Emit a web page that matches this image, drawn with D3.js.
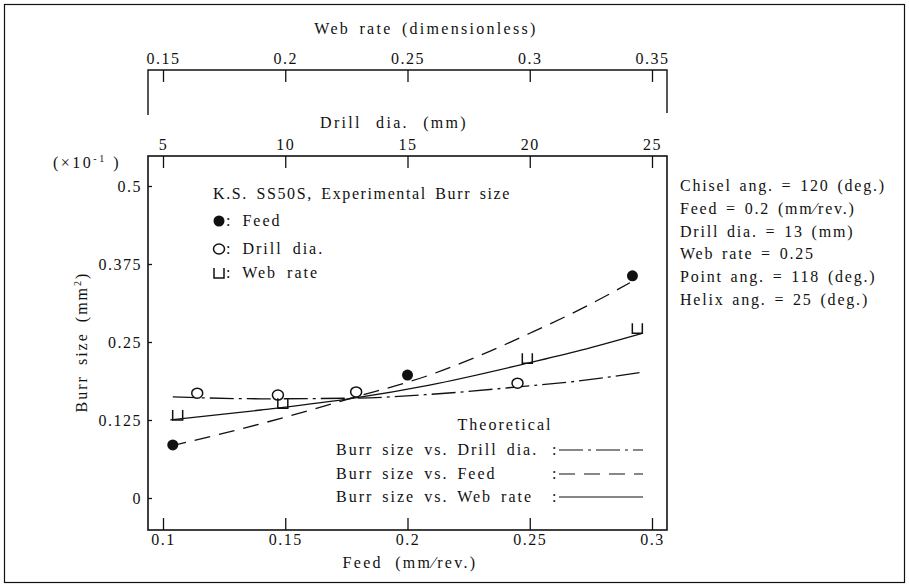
<!DOCTYPE html>
<html>
<head>
<meta charset="utf-8">
<script src="https://cdn.jsdelivr.net/npm/d3@7/dist/d3.min.js"></script>
<style>
  body { margin: 0; background: #fff; }
  svg text { font-family: "Liberation Serif", "DejaVu Serif", serif; fill: #111; }
</style>
</head>
<body>
<div id="chart"></div>
<script>
// ── Ticks ─────────────────────────────────────────────────────────────────────
const FEED_TICKS  = [0.1, 0.15, 0.2, 0.25, 0.3];
const DRILL_TICKS = [5, 10, 15, 20, 25];
const WEB_TICKS   = [0.15, 0.2, 0.25, 0.3, 0.35];
const BURR_TICKS  = [0, 0.125, 0.25, 0.375, 0.5];

// ── Experimental points ───────────────────────────────────────────────────────
const feedExpX  = [0.104, 0.2, 0.292];
const feedExpY  = [0.085, 0.197, 0.356];
const drillExpX = [6.4, 9.7, 12.9, 19.5];
const drillExpY = [0.168, 0.165, 0.170, 0.184];
const webExpX   = [0.156, 0.199, 0.299, 0.344];
const webExpY   = [0.133, 0.152, 0.224, 0.272];

// ── Theoretical curves ────────────────────────────────────────────────────────
const feedTheoX  = [0.103, 0.14, 0.178, 0.209, 0.23, 0.25, 0.271, 0.291];
const feedTheoY  = [0.083, 0.119, 0.161, 0.197, 0.229, 0.264, 0.303, 0.345];
const drillTheoX = [5.4, 9, 12.8, 15.9, 19.5, 22.1, 24.5];
const drillTheoY = [0.162, 0.159, 0.160, 0.166, 0.178, 0.188, 0.201];
const webTheoX   = [0.153, 0.19, 0.228, 0.259, 0.299, 0.321, 0.346];
const webTheoY   = [0.125, 0.141, 0.160, 0.181, 0.216, 0.237, 0.264];

const CONDITIONS = [
  "Chisel ang. = 120 (deg.)",
  "Feed = 0.2 (mm\u2044rev.)",
  "Drill dia. = 13 (mm)",
  "Web rate = 0.25",
  "Point ang. = 118 (deg.)",
  "Helix ang. = 25 (deg.)"
];

// ── Layout ────────────────────────────────────────────────────────────────────
const W = 909, H = 588;
const frame = { left: 148, right: 667, top: 156, bottom: 530 };
const webLineY = 70;
const INK = "#111";
const DASH = { feed: "16,9", drill: "24,5,3,5", web: null };

const svg = d3.select("#chart").append("svg")
  .attr("width", W).attr("height", H);

svg.append("rect")   // figure border
  .attr("x", 4.5).attr("y", 4.5).attr("width", 900).attr("height", 578)
  .attr("fill", "none").attr("stroke", INK).attr("stroke-width", 1.2);

// ── Scales ────────────────────────────────────────────────────────────────────
const xFeed  = d3.scaleLinear().domain([0.1, 0.3]).range([163, 652]);
const xDrill = d3.scaleLinear().domain([5, 25]).range([163, 652]);
const xWeb   = d3.scaleLinear().domain([0.15, 0.35]).range([163, 652]);
const yScale = d3.scaleLinear().domain([0, 0.5]).range([498, 186]);

const fmt = d => String(d);

function styleAxis(g) {
  g.select(".domain").remove();
  g.selectAll(".tick line").attr("stroke", INK).attr("stroke-width", 1.3);
  g.selectAll(".tick text")
    .style("font-size", "16px")
    .style("letter-spacing", "1.5px")
    .attr("fill", INK);
}

// ── Frame ─────────────────────────────────────────────────────────────────────
svg.append("rect")
  .attr("x", frame.left).attr("y", frame.top)
  .attr("width", frame.right - frame.left).attr("height", frame.bottom - frame.top)
  .attr("fill", "none").attr("stroke", INK).attr("stroke-width", 1.6);

// web rate bracket
svg.append("path")
  .attr("d", `M${frame.left},${webLineY + 45}V${webLineY}H${frame.right}V${webLineY + 43}`)
  .attr("fill", "none").attr("stroke", INK).attr("stroke-width", 1.4);

// ── Axes ──────────────────────────────────────────────────────────────────────
svg.append("g").attr("transform", `translate(0,${webLineY})`)
  .call(d3.axisTop(xWeb).tickValues(WEB_TICKS).tickFormat(fmt).tickSize(-12).tickPadding(6))
  .call(styleAxis);

svg.append("g").attr("transform", `translate(0,${frame.top})`)
  .call(d3.axisTop(xDrill).tickValues(DRILL_TICKS).tickFormat(fmt).tickSize(-12).tickPadding(6))
  .call(styleAxis);

svg.append("g").attr("transform", `translate(0,${frame.bottom})`)
  .call(d3.axisBottom(xFeed).tickValues(FEED_TICKS).tickFormat(fmt).tickSize(-12).tickPadding(4))
  .call(styleAxis);

svg.append("g").attr("transform", `translate(${frame.left},0)`)
  .call(d3.axisLeft(yScale).tickValues(BURR_TICKS).tickFormat(fmt).tickSize(-4).tickPadding(6))
  .call(styleAxis);

// ── Text helper ───────────────────────────────────────────────────────────────
const txt = (x, y, s, anchor = "start", ls = 2, ws = 3) => svg.append("text")
  .attr("x", x).attr("y", y).attr("text-anchor", anchor)
  .style("font-size", "16px")
  .style("letter-spacing", ls + "px")
  .style("word-spacing", ws + "px")
  .text(s);

// ── Axis titles ───────────────────────────────────────────────────────────────
txt(426, 34, "Web rate (dimensionless)", "middle", 2.3, 3);
txt(394, 128, "Drill dia. (mm)", "middle", 2.3, 8);
txt(410, 568, "Feed  (mm\u2044rev.)", "middle", 2.3, 6);

svg.append("text")
  .attr("transform", "translate(87,342) rotate(-90)")
  .attr("text-anchor", "middle")
  .style("font-size", "16px").style("letter-spacing", "2px").style("word-spacing", "4px")
  .call(t => {
    t.append("tspan").text("Burr size (mm");
    t.append("tspan").attr("dy", -6).style("font-size", "10px").text("2");
    t.append("tspan").attr("dy", 6).text(")");
  });

svg.append("text").attr("x", 53).attr("y", 168)
  .style("font-size", "16px").style("letter-spacing", "2.5px")
  .call(t => {
    t.append("tspan").text("(\u00d710");
    t.append("tspan").attr("dy", -6).style("font-size", "10px").text("-1");
    t.append("tspan").attr("dy", 6).text(" )");
  });

// ── Theoretical curves ────────────────────────────────────────────────────────
const curves = [
  { x: feedTheoX,  y: feedTheoY,  sx: xFeed,  dash: DASH.feed },
  { x: drillTheoX, y: drillTheoY, sx: xDrill, dash: DASH.drill },
  { x: webTheoX,   y: webTheoY,   sx: xWeb,   dash: DASH.web }
];
curves.forEach(c => {
  const line = d3.line()
    .x(i => c.sx(c.x[i])).y(i => yScale(c.y[i]))
    .curve(d3.curveMonotoneX);
  svg.append("path")
    .attr("d", line(d3.range(c.x.length)))
    .attr("fill", "none").attr("stroke", INK).attr("stroke-width", 1.3)
    .attr("stroke-dasharray", c.dash);
});

// ── Markers ───────────────────────────────────────────────────────────────────
function marker(g, kind, x, y) {
  if (kind === "feed") {
    g.append("circle").attr("cx", x).attr("cy", y).attr("r", 5.5).attr("fill", INK);
  } else if (kind === "drill") {
    g.append("ellipse").attr("cx", x).attr("cy", y).attr("rx", 5.5).attr("ry", 5)
      .attr("fill", "#fff").attr("stroke", INK).attr("stroke-width", 1.5);
  } else {
    g.append("path").attr("d", `M${x - 5},${y - 5}V${y + 5}H${x + 5}V${y - 5}`)
      .attr("fill", "none").attr("stroke", INK).attr("stroke-width", 1.5);
  }
}
const pts = svg.append("g");
feedExpX.forEach((v, i)  => marker(pts, "feed",  xFeed(v),  yScale(feedExpY[i])));
drillExpX.forEach((v, i) => marker(pts, "drill", xDrill(v), yScale(drillExpY[i])));
webExpX.forEach((v, i)   => marker(pts, "web",   xWeb(v),   yScale(webExpY[i])));

// ── Experimental legend ───────────────────────────────────────────────────────
txt(213, 199, "K.S. SS50S, Experimental Burr size", "start", 1.6, 3);
[["feed", "Feed", 221], ["drill", "Drill dia.", 249], ["web", "Web rate", 273]].forEach(([k, label, y]) => {
  marker(svg, k, 219, y);
  txt(226, y + 5, ": " + label, "start", 2, 4);
});

// ── Theoretical legend ────────────────────────────────────────────────────────
txt(505, 430, "Theoretical", "middle");
const theo = [
  ["Burr size vs. Drill dia.", 455, DASH.drill],
  ["Burr size vs. Feed",       479, DASH.feed],
  ["Burr size vs. Web rate",   502, DASH.web]
];
theo.forEach(([label, y, dash]) => {
  const t = txt(336, y, label);
  const end = 336 + t.node().getComputedTextLength();
  const cx = Math.max(552, end + 8);
  txt(cx, y, ":");
  svg.append("line")
    .attr("x1", cx + 7).attr("x2", 643).attr("y1", y - 5).attr("y2", y - 5)
    .attr("stroke", INK).attr("stroke-width", 1.2).attr("stroke-dasharray", dash);
});

// ── Conditions ────────────────────────────────────────────────────────────────
CONDITIONS.forEach((s, i) => txt(680, 191 + i * 22.8, s, "start", 1.8, 2));
</script>
</body>
</html>
